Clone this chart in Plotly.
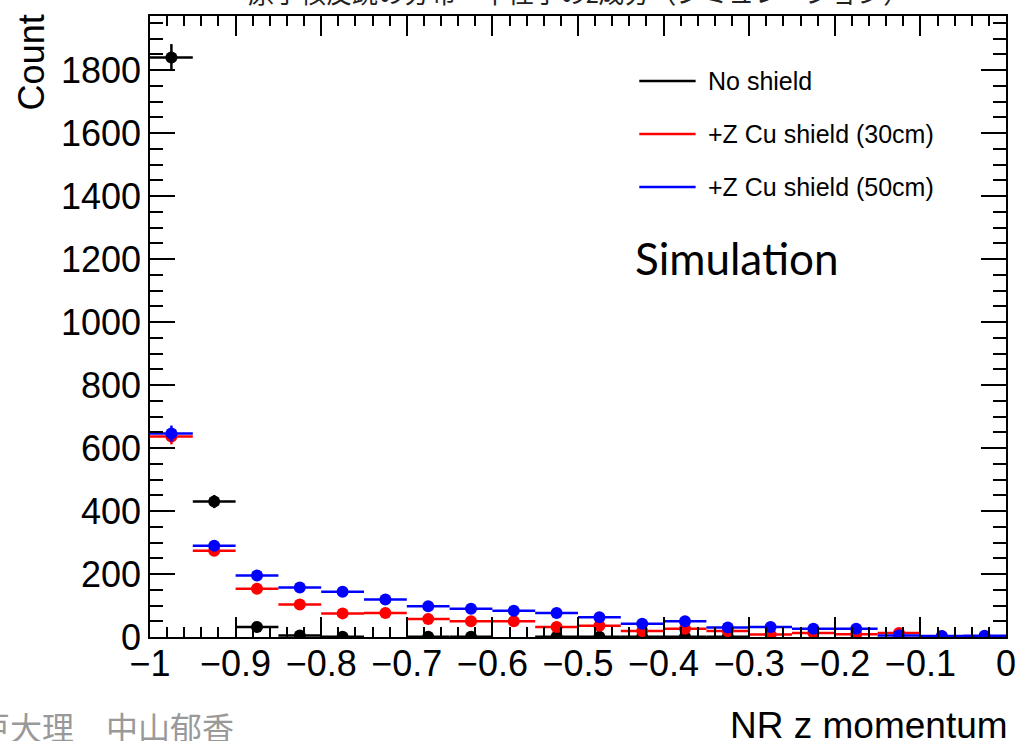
import math
import plotly.graph_objects as go

# ---------------- data ----------------
bin_centers = [-0.975, -0.925, -0.875, -0.825, -0.775, -0.725, -0.675, -0.625, -0.575, -0.525,
               -0.475, -0.425, -0.375, -0.325, -0.275, -0.225, -0.175, -0.125, -0.075, -0.025]
bin_half_width = 0.025

no_shield = [1840, 430, 32, 5, 1, 0, 1, 1, 0, 1, 1, 1, 1, 1, 0, 0, 0, 0, 0, 0]
cu_30cm = [637, 274, 153, 103, 75, 76, 57, 50, 50, 32, 36, 19, 26, 19, 8, 13, 9, 13, 2, 2]
cu_50cm = [646, 290, 195, 157, 144, 119, 98, 90, 83, 76, 63, 42, 50, 30, 32, 26, 26, 5, 3, 4]

series_names = ["No shield", "+Z Cu shield (30cm)", "+Z Cu shield (50cm)"]
series_colors = ["#000000", "#ff0000", "#0000ff"]
series_values = [no_shield, cu_30cm, cu_50cm]

x_title = "NR z momentum"
y_title = "Count"

# ---------------- figure ----------------
W, H = 1026, 741
L, R, T, B = 150, 10, 16, 104
pw, ph = W - L - R, H - T - B


def px(x):
    return (x - L) / pw


def py(y):
    return (H - B - y) / ph


fig = go.Figure()
for name, vals, col in zip(series_names, series_values, series_colors):
    ys = [v if v > 0 else None for v in vals]
    fig.add_trace(go.Scatter(
        x=bin_centers, y=ys, mode="markers", name=name, showlegend=False,
        marker=dict(color=col, size=12, symbol="circle", line=dict(width=0)),
        error_x=dict(type="constant", value=bin_half_width, color=col, thickness=2.5, width=0),
        error_y=dict(type="data", array=[math.sqrt(v) for v in vals], color=col, thickness=2.5, width=0),
    ))

ff = "Liberation Sans, Arial, sans-serif"
fig.update_layout(
    width=W, height=H,
    margin=dict(l=L, r=R, t=T, b=B),
    paper_bgcolor="white", plot_bgcolor="white",
    xaxis=dict(
        range=[-1, 0], tick0=-1, dtick=0.1, ticks="inside", ticklen=20, tickwidth=1.5, tickcolor="black",
        minor=dict(dtick=0.02, ticks="inside", ticklen=10, tickwidth=1.5, tickcolor="black", showgrid=False),
        showline=True, linecolor="black", linewidth=1.5, mirror="allticks",
        showgrid=False, zeroline=False, ticklabelstandoff=-6,
        tickfont=dict(family=ff, size=36, color="black"),
    ),
    yaxis=dict(
        range=[0, 1972], tick0=0, dtick=200, ticks="inside", ticklen=25, tickwidth=1.5, tickcolor="black",
        minor=dict(dtick=50, ticks="inside", ticklen=13, tickwidth=1.5, tickcolor="black", showgrid=False),
        showline=True, linecolor="black", linewidth=1.5, mirror="allticks",
        showgrid=False, zeroline=False,
        tickfont=dict(family=ff, size=36, color="black"),
    ),
)

# legend drawn manually (ROOT-style, lines only)
leg_y = [81, 134, 187]
for name, col, yy in zip(series_names, series_colors, leg_y):
    fig.add_shape(type="line", xref="paper", yref="paper",
                  x0=px(645), x1=px(702), y0=py(yy), y1=py(yy),
                  line=dict(color=col, width=2.5))
    fig.add_annotation(xref="paper", yref="paper", x=px(713), y=py(yy), text=name,
                       xanchor="left", yanchor="middle", showarrow=False,
                       font=dict(family=ff, size=25, color="black"))

# Simulation label
fig.add_annotation(xref="paper", yref="paper", x=px(639), y=py(258), text="Simulation",
                   xanchor="left", yanchor="middle", showarrow=False,
                   font=dict(family="Lato, sans-serif", size=44, color="black"))

# axis titles
fig.add_annotation(xref="paper", yref="paper", x=px(1020), y=py(725), text=x_title,
                   xanchor="right", yanchor="middle", showarrow=False,
                   font=dict(family=ff, size=37, color="black"))
fig.add_annotation(xref="paper", yref="paper", x=px(30), y=py(62), text=y_title, textangle=-90,
                   xanchor="center", yanchor="middle", showarrow=False,
                   font=dict(family=ff, size=36, color="black"))

# clipped slide title at the top and author footer
fig.add_annotation(xref="paper", yref="paper", x=px(583), y=py(-9), text="原子核反跳の分布　中性子のz成分（シミュレーション）",
                   xanchor="center", yanchor="middle", showarrow=False,
                   font=dict(family="Noto Sans CJK JP", size=26, color="#222222"))
fig.add_annotation(xref="paper", yref="paper", x=px(-58), y=py(726), text="神戸大理　中山郁香",
                   xanchor="left", yanchor="middle", showarrow=False,
                   font=dict(family="Noto Sans CJK JP", size=32, color="#999999"))

fig.write_html("out.html")
